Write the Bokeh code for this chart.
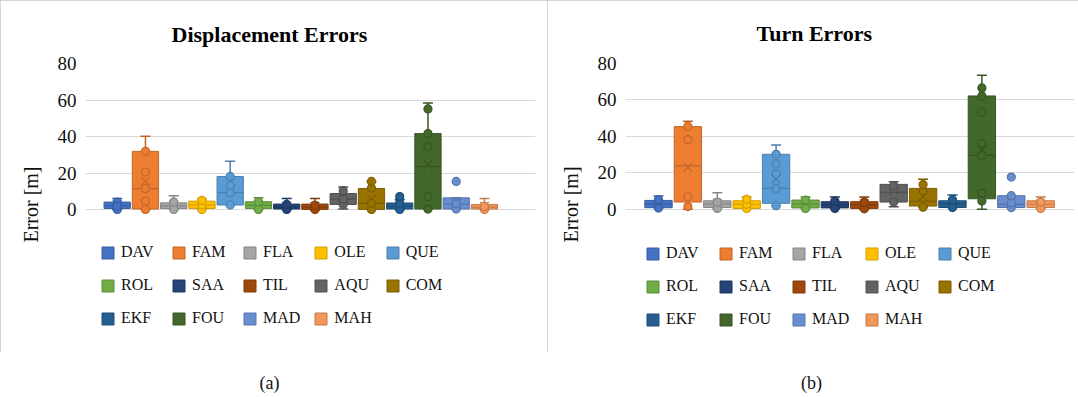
import numpy as np
from bokeh.plotting import figure
from bokeh.models import ColumnDataSource, Range1d, FixedTicker, Legend, LegendItem, Div
from bokeh.layouts import column, row
from bokeh.embed import file_html
from bokeh.resources import INLINE

categories = ["DAV", "FAM", "FLA", "OLE", "QUE", "ROL", "SAA", "TIL", "AQU", "COM", "EKF", "FOU", "MAD", "MAH"]
colors = ["#4472C4", "#ED7D31", "#A5A5A5", "#FFC000", "#5B9BD5", "#70AD47", "#264478",
          "#9E480E", "#636363", "#997300", "#255E91", "#43682B", "#698ED0", "#F1975A"]
y_ticks = [0, 20, 40, 60, 80]

# Displacement errors
disp_low = [0.3, 0.3, 0.3, 0.3, 2.7, 0.3, 0.3, 0.0, 0.5, 0.3, 0.3, 0.5, 0.5, 0.3]
disp_q1 = [0.8, 0.5, 0.8, 0.8, 2.7, 0.8, 0.5, 0.3, 3.0, 0.3, 0.5, 0.5, 0.5, 0.5]
disp_med = [2.3, 11.7, 2.2, 2.7, 9.5, 2.5, 1.5, 1.5, 5.9, 3.6, 2.0, 23.7, 3.2, 1.5]
disp_q3 = [4.3, 32.0, 3.9, 4.8, 18.3, 4.5, 3.2, 3.2, 9.0, 11.7, 3.8, 41.7, 6.6, 3.0]
disp_high = [6.3, 40.3, 7.7, 6.3, 26.6, 6.6, 6.3, 6.3, 12.6, 15.6, 5.7, 58.4, 6.6, 6.3]
disp_mean = [2.8, 15.6, 3.0, 3.2, 11.5, 3.0, 2.0, 2.0, 6.5, 5.9, 2.8, 24.8, 3.8, 2.0]
disp_points = [[0.3, 4.3, 2.0], [0.3, 4.8, 11.7, 20.7, 32.0], [0.3, 4.3], [0.3, 2.7, 5.2],
               [2.7, 9.3, 13.4, 18.3], [0.3, 4.5], [0.3, 3.0], [0.3, 2.5], [3.0, 5.9, 10.5],
               [0.3, 3.6, 12.0, 15.6], [0.3, 3.5, 7.3], [0.5, 7.3, 34.5, 41.7, 55.2],
               [0.5, 3.5, 15.6], [0.3, 2.0]]

# Turn errors
turn_low = [0.7, 0.0, 0.5, 0.5, 2.0, 0.5, 0.5, 0.0, 1.4, 1.2, 1.0, 0.0, 1.0, 0.5]
turn_q1 = [0.9, 4.0, 1.0, 0.5, 3.3, 0.8, 0.8, 0.5, 4.0, 1.8, 1.0, 5.8, 1.0, 1.0]
turn_med = [3.0, 23.8, 3.0, 2.8, 11.5, 3.0, 2.5, 2.5, 9.3, 4.4, 3.0, 29.6, 2.7, 2.8]
turn_q3 = [4.9, 45.4, 4.7, 4.7, 30.2, 5.1, 4.2, 4.2, 13.7, 11.5, 4.7, 62.2, 7.5, 4.7]
turn_high = [7.3, 48.3, 9.1, 6.8, 35.3, 6.8, 6.8, 6.8, 15.2, 16.5, 7.9, 73.6, 7.5, 6.8]
turn_mean = [3.5, 22.9, 3.5, 3.0, 16.5, 3.2, 3.0, 3.0, 10.5, 7.0, 3.5, 32.6, 4.0, 3.0]
turn_points = [[0.7, 5.3], [1.5, 6.9, 38.2, 45.6], [0.5, 4.0], [0.5, 2.8, 5.5],
               [2.0, 11.5, 19.5, 25.0, 30.2], [0.5, 5.1], [0.5, 4.5], [0.3, 4.0],
               [4.0, 11.5, 13.0], [1.2, 10.0, 13.6], [1.0, 5.3],
               [4.6, 8.8, 29.6, 36.2, 53.3, 62.2, 66.6], [1.0, 3.5, 7.5, 17.7], [0.5, 4.0]]

FONT = "Liberation Serif"
BOX_W = 0.93


def darker(c, f=0.82):
    r, g, b = int(c[1:3], 16), int(c[3:5], 16), int(c[5:7], 16)
    return "#%02x%02x%02x" % (int(r * f), int(g * f), int(b * f))


def make_panel(title, low, q1, med, q3, high, mean, pts, width, borders, x_rng, y_rng,
               title_offset, title_standoff, leg_xy, label_w):
    bl, br, bt, bb = borders
    p = figure(width=width, height=352, x_range=Range1d(*x_rng), y_range=Range1d(*y_rng),
               output_backend="svg", toolbar_location=None,
               min_border_left=bl, min_border_right=br, min_border_top=bt, min_border_bottom=bb)
    p.styles = {"outline": "1px solid #c8c8c8", "outline-offset": "-1px"}
    x = np.arange(len(categories))
    lines = [darker(c) for c in colors]
    src = ColumnDataSource(dict(x=x, low=low, q1=q1, med=med, q3=q3, high=high, mean=mean,
                                color=colors, line=lines,
                                x0=x - BOX_W / 2, x1=x + BOX_W / 2))
    p.segment(x0="x", y0="low", x1="x", y1="q1", line_color="line", line_width=1.5, source=src)
    p.segment(x0="x", y0="q3", x1="x", y1="high", line_color="line", line_width=1.5, source=src)
    p.scatter(x="x", y="low", marker="dash", size=10, line_color="line", line_width=1.5, source=src)
    p.scatter(x="x", y="high", marker="dash", size=10, line_color="line", line_width=1.5, source=src)
    boxes = p.vbar(x="x", width=BOX_W, bottom="q1", top="q3", fill_color="color",
                   line_color="line", line_width=1, source=src)
    p.segment(x0="x0", y0="med", x1="x1", y1="med", line_color="line", line_width=1.2, source=src)
    p.scatter(x="x", y="mean", marker="x", size=12, line_color="line", line_width=1.3, source=src)
    px, py, pc, pl = [], [], [], []
    for i, vals in enumerate(pts):
        for v in vals:
            px.append(i); py.append(v); pc.append(colors[i]); pl.append(lines[i])
    p.scatter(x=px, y=py, size=8, fill_color=pc, line_color=pl, line_width=1.2)

    p.title.text = title
    p.title.text_font = FONT
    p.title.text_font_size = "22px"
    p.title.text_font_style = "bold"
    p.title.text_color = "#000000"
    p.title.align = "left"
    p.title.offset = title_offset
    p.title.standoff = title_standoff

    p.xaxis.visible = False
    p.xgrid.visible = False
    p.ygrid.grid_line_color = "#d9d9d9"
    p.ygrid.grid_line_width = 1
    p.outline_line_color = None
    p.yaxis.ticker = FixedTicker(ticks=y_ticks)
    p.yaxis.axis_line_color = None
    p.yaxis.major_tick_line_color = None
    p.yaxis.minor_tick_line_color = None
    p.yaxis.major_label_text_font = FONT
    p.yaxis.major_label_text_font_size = "19px"
    p.yaxis.major_label_text_color = "#111111"
    p.yaxis.major_label_standoff = 3
    p.yaxis.axis_label = "Error [m]"
    p.yaxis.axis_label_text_font = FONT
    p.yaxis.axis_label_text_font_size = "20px"
    p.yaxis.axis_label_text_font_style = "normal"
    p.yaxis.axis_label_text_color = "#111111"
    p.yaxis.axis_label_standoff = 13

    items = [LegendItem(label=c, renderers=[boxes], index=i) for i, c in enumerate(categories)]
    leg = Legend(items=items, orientation="horizontal", ncols=5, location=leg_xy,
                 glyph_width=15, glyph_height=15, label_standoff=6, label_width=label_w,
                 label_height=20, spacing=13, padding=0, margin=0,
                 label_text_font=FONT, label_text_font_size="16px", label_text_color="#111111",
                 border_line_color=None, background_fill_alpha=0)
    p.add_layout(leg)
    return p


p1 = make_panel("Displacement Errors", disp_low, disp_q1, disp_med, disp_q3, disp_high,
                disp_mean, disp_points, 547, (85, 12, 60, 7), (-1.122, 14.807), (-74.05, 80),
                86, 33, (15, 17), 37)
p2 = make_panel("Turn Errors", turn_low, turn_q1, turn_med, turn_q3, turn_high,
                turn_mean, turn_points, 531, (78, 4, 63, 7), (-1.122, 14.15), (-74.68, 80),
                131, 36, (20, 16), 39)

cap_style = {"text-align": "center", "font-family": FONT, "font-size": "18px", "color": "#111111"}
c1 = Div(text='<span style="position:relative;top:14px;left:-9px">(a)</span>', width=547, height=40, styles=cap_style)
c2 = Div(text='<span style="position:relative;top:14px;left:-16px">(b)</span>', width=531, height=40, styles=cap_style)

layout = column(row(p1, p2, spacing=0), row(c1, c2, spacing=0), spacing=0)
open("out.html", "w").write(file_html(layout, INLINE))
